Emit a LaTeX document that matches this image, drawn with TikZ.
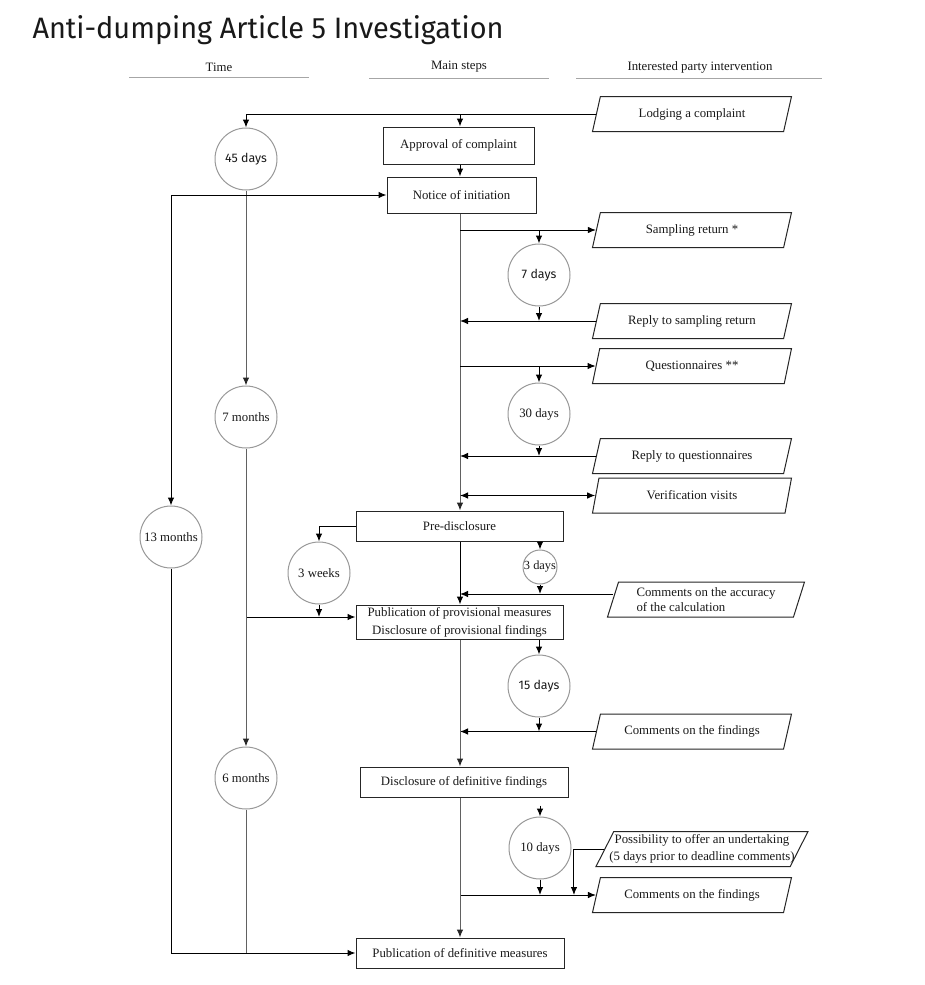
\documentclass[tikz,border=0pt]{standalone}
\usepackage{fontspec}
\setmainfont{Liberation Serif}
\newfontfamily\ecsans{Fira Sans}
\usetikzlibrary{arrows.meta,shapes.geometric,positioning}

\begin{document}
\begin{tikzpicture}[x=1pt,y=-1pt,line width=1pt,
    >={Latex[length=8pt,width=6.5pt]},
    every node/.style={font=\fontsize{12.8}{15}\selectfont,text=black!90},
    mainbox/.style={draw=black!85,rectangle,minimum height=30pt,inner sep=2pt},
    partybox/.style={draw=black!85,trapezium,trapezium left angle=60,
      trapezium right angle=120,trapezium stretches body,
      minimum width=199pt,minimum height=35pt,inner sep=1pt},
    timer/.style={draw=black!40,circle,minimum size=62pt,inner sep=0pt},
    sftimer/.style={timer,font=\ecsans\fontsize{12.4}{14}\selectfont},
    tline/.style={draw=black!62,>={Latex[length=8pt,width=6.5pt,color=black!85]}},
    hrule/.style={draw=black!35,line width=0.8pt}]

  \fill[white] (0,0) rectangle (924,985);
  \useasboundingbox (0,0) rectangle (924,985);

  % title and column heads
  \node[anchor=base west,inner sep=0pt] (title) at (32,38)
    {\resizebox{471pt}{23pt}{\ecsans\fontsize{30}{36}\selectfont Anti-dumping Article 5 Investigation}};
  \node (hTime) at (219,67) {Time};
  \node (hSteps) at (459,67) {Main steps};
  \node (hParty) at (700,67) {Interested party intervention};
  \draw[hrule] (129,77) -- (309,77);
  \draw[hrule] (369,78) -- (549,78);
  \draw[hrule] (576,78) -- (822,78);

  \coordinate (trunk) at (460,0); % x of the main line

  % main steps
  \node[mainbox,minimum width=151pt,minimum height=37pt] (approve) at (458.5,145.5) {Approval of complaint};
  \node[mainbox,minimum width=149pt,minimum height=36pt] (notice) at (461.5,195) {Notice of initiation};
  \node[mainbox,minimum width=207pt] (predis) at (459.5,526) {Pre-disclosure};
  \node[mainbox,minimum width=207pt,minimum height=34pt,align=center,
    font=\fontsize{12.8}{18}\selectfont] (pubprov) at (459.5,622)
    {Publication of provisional measures\\Disclosure of provisional findings};
  \node[mainbox,minimum width=208pt] (disdef) at (464,782) {Disclosure of definitive findings};
  \node[mainbox,minimum width=208pt] (pubdef) at (460,953) {Publication of definitive measures};

  % time limits
  \node[sftimer] (d45) at (246,159) {45 days};
  \node[sftimer] (d7) at (539,275) {7 days};
  \node[timer] (m7) at (246,417) {7 months};
  \node[timer] (d30) at (539,414) {30 days};
  \node[timer] (m13) at (171,537) {13 months};
  \node[timer] (w3) at (319,573) {3 weeks};
  \node[timer,minimum size=34pt,font=\fontsize{12.4}{14}\selectfont] (d3) at (540,567) {3 days};
  \node[sftimer] (d15) at (539,686) {15 days};
  \node[timer] (m6) at (246,778) {6 months};
  \node[timer] (d10) at (540,848) {10 days};

  % interested parties
  \node[partybox] (lodge) at (692,114) {Lodging a complaint};
  \node[partybox] (samp) at (692,230) {Sampling return *};
  \node[partybox] (rsamp) at (692,321) {Reply to sampling return};
  \node[partybox] (quest) at (692,366) {Questionnaires **};
  \node[partybox] (rquest) at (692,456) {Reply to questionnaires};
  \node[partybox] (verif) at (692,495.5) {Verification visits};
  \node[partybox,minimum width=197pt,trapezium left angle=67,trapezium right angle=113,
    align=left] (acc) at (706,599.5) {Comments on the accuracy\\of the calculation};
  \node[partybox] (cf1) at (692,731.5) {Comments on the findings};
  \node[partybox,minimum width=212pt,inner xsep=-6pt,align=center,
    font=\fontsize{12.8}{17}\selectfont] (poss) at (702,849)
    {Possibility to offer an undertaking\\(5 days prior to deadline comments)};
  \node[partybox] (cf2) at (692,895) {Comments on the findings};

  % complaint and initiation
  \draw[->] (lodge.west) -| (d45.north);
  \draw[->] (lodge.west -| trunk) -- (approve.north -| trunk);
  \draw[->] (approve.south -| trunk) -- (notice.north -| trunk);
  \draw[tline,->] (d45) -- (m7);
  \draw[<->] (m13.north) |- (notice.west);
  \draw[tline,->] (notice.south -| trunk) -- (predis.north -| trunk);

  % sampling and questionnaires
  \draw[->] (samp.west -| trunk) -- (samp.west);
  \draw[->] (samp.west -| d7) -- (d7.north);
  \draw[->] (d7.south) -- (d7.south |- rsamp.west);
  \draw[->] (rsamp.west) -- (rsamp.west -| trunk);
  \draw[->] (quest.west -| trunk) -- (quest.west);
  \draw[->] (quest.west -| d30) -- (d30.north);
  \draw[->] (d30.south) -- (d30.south |- rquest.west);
  \draw[->] (rquest.west) -- (rquest.west -| trunk);
  \draw[<->] (verif.west -| trunk) -- (verif.west);

  % pre-disclosure and provisional measures
  \coordinate (provin) at ([yshift=5pt]pubprov.west);
  \coordinate (accin) at ([yshift=5.5pt]acc.west);
  \draw[->] (predis.west) -| (w3.north);
  \draw[->] (w3.south) -- (w3.south |- provin);
  \draw[->] (m7.south |- provin) -- (provin);
  \draw[->] (predis.south -| d3) -- (d3.north);
  \draw[->] (d3.south) -- (d3.south |- accin);
  \draw[->] (accin) -- (accin -| trunk);
  \draw[->] (predis.south -| trunk) -- (pubprov.north -| trunk);
  \draw[tline,->] (m7) -- (m6);

  % findings
  \draw[->] (pubprov.south -| d15) -- (d15.north);
  \draw[->] (d15.south) -- (d15.south |- cf1.west);
  \draw[->] (cf1.west) -- (cf1.west -| trunk);
  \draw[tline,->] (pubprov.south -| trunk) -- (disdef.north -| trunk);

  % definitive measures
  \coordinate (d10in) at ([yshift=-8pt]disdef.south -| d10);
  \draw[->] (d10in) -- (d10.north);
  \draw[->] (d10.south) -- (d10.south |- cf2.west);
  \draw[->] (cf2.west -| trunk) -- (cf2.west);
  \draw[->] (poss.west) -| ([xshift=-22pt]cf2.west);
  \draw[tline,->] (disdef.south -| trunk) -- (pubdef.north -| trunk);
  \draw[->] (m13.south) |- (pubdef.west);
  \draw[tline] (m6.south) -- (m6.south |- pubdef.west);
\end{tikzpicture}
\end{document}
